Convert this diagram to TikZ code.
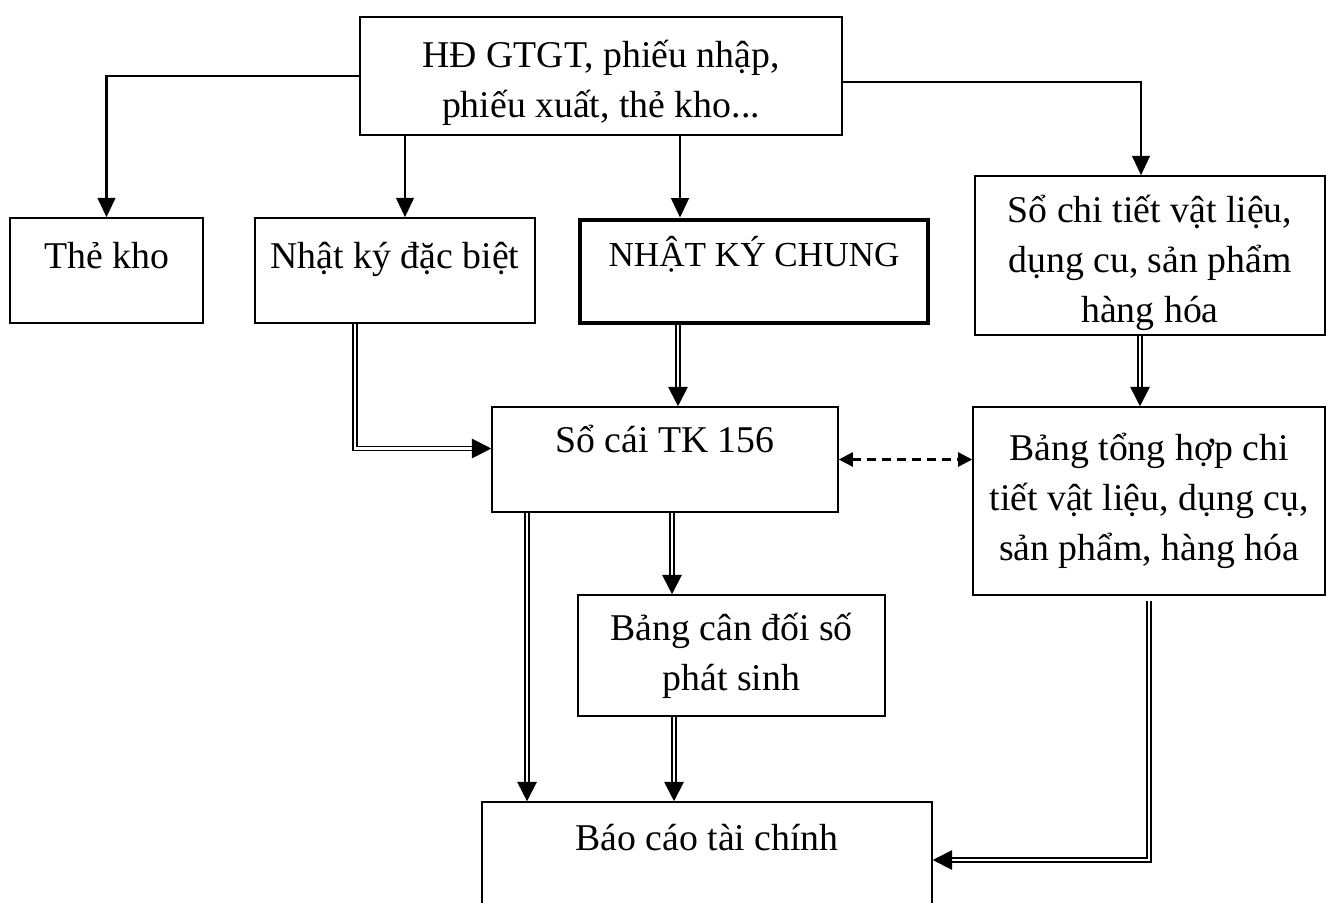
\documentclass[tikz,border=0pt]{standalone}
\usepackage{fontspec}
\setmainfont{Liberation Serif}
\usepackage{tikz}
\usetikzlibrary{arrows.meta, positioning, calc}

\begin{document}
\begin{tikzpicture}[
  x=0.02cm, y=-0.02cm,
  box/.style={rectangle, draw, line width=0.9pt, align=center, inner sep=0pt, font=\fontsize{21.5}{28.6}\selectfont},
  mainbox/.style={box, line width=2.8pt, font=\fontsize{20}{28.6}\selectfont},
  arrow/.style={-{Triangle[length=11pt, width=10pt]}, line width=1.4pt},
  dbl/.style={-{Triangle[length=11pt, width=11pt]}, double, double distance=1.2pt, line width=1.1pt},
  dsh/.style={{Triangle[length=8pt, width=8pt]}-{Triangle[length=8pt, width=8pt]}, dash pattern=on 5pt off 3.5pt, line width=1.3pt}
]
  \useasboundingbox (0,0) rectangle (1326,903);

  \node[box, minimum width=9.64cm, text height=2.02cm, text depth=0.34cm] (src) at (601,76) {HĐ GTGT, phiếu nhập,\\ phiếu xuất, thẻ kho...};
  \node[box, minimum width=3.86cm, text height=1.0cm, text depth=1.1cm] (thekho) at (106.5,270.5) {Thẻ kho};
  \node[box, minimum width=5.6cm, text height=1.0cm, text depth=1.1cm] (nkdb) at (395,270.5) {Nhật ký đặc biệt};
  \node[mainbox, minimum width=6.96cm, text height=0.92cm, text depth=1.14cm] (nkc) at (754,271.5) {NHẬT KÝ CHUNG};
  \node[box, minimum width=7cm, text height=2.94cm, text depth=0.24cm] (sct) at (1150,255.5) {Sổ chi tiết vật liệu,\\ dụng cu, sản phẩm\\ hàng hóa};
  \node[box, minimum width=6.92cm, text height=0.9cm, text depth=1.2cm] (socai) at (665,459.5) {Sổ cái TK 156};
  \node[box, minimum width=7.04cm, minimum height=3.76cm] (bth) at (1149,501) {Bảng tổng hợp chi\\ tiết vật liệu, dụng cụ,\\ sản phẩm, hàng hóa};
  \node[box, minimum width=6.14cm, minimum height=2.42cm] (bcd) at (731.5,655.5) {Bảng cân đối số\\ phát sinh};
  \node[box, minimum width=9cm, text height=0.96cm, text depth=1.36cm] (bctc) at (707,860) {Báo cáo tài chính};

  % chung tu -> so
  \draw[arrow] (src.west) -| (thekho.north);
  \draw[arrow] ([xshift=0.2cm]nkdb.north |- src.south) -- ([xshift=0.2cm]nkdb.north);
  \draw[arrow] ([xshift=-1.48cm]nkc.north |- src.south) -- ([xshift=-1.48cm]nkc.north);
  \draw[arrow] ([yshift=-0.12cm]src.east) -| ([xshift=-0.18cm]sct.north);

  % so -> so cai
  \draw[dbl] ([xshift=-0.8cm]nkdb.south) |- ([yshift=0.22cm]socai.west);
  \draw[dbl] ([xshift=0.26cm]socai.north |- nkc.south) -- ([xshift=0.26cm]socai.north);
  \draw[dbl] ([xshift=-0.2cm]sct.south) -- ([xshift=-0.2cm]sct.south |- bth.north);
  \draw[dsh] (socai.east) -- (socai.east -| bth.west);

  % bao cao
  \draw[dbl] ([xshift=-2.76cm]socai.south) -- ([xshift=-2.76cm]socai.south |- bctc.north);
  \draw[dbl] ([xshift=-1.19cm]bcd.north |- socai.south) -- ([xshift=-1.19cm]bcd.north);
  \draw[dbl] ([xshift=-1.15cm]bcd.south) -- ([xshift=-1.15cm]bcd.south |- bctc.north);
  \draw[dbl] ([yshift=-0.1cm]bth.south) |- (bctc.east);
\end{tikzpicture}
\end{document}
